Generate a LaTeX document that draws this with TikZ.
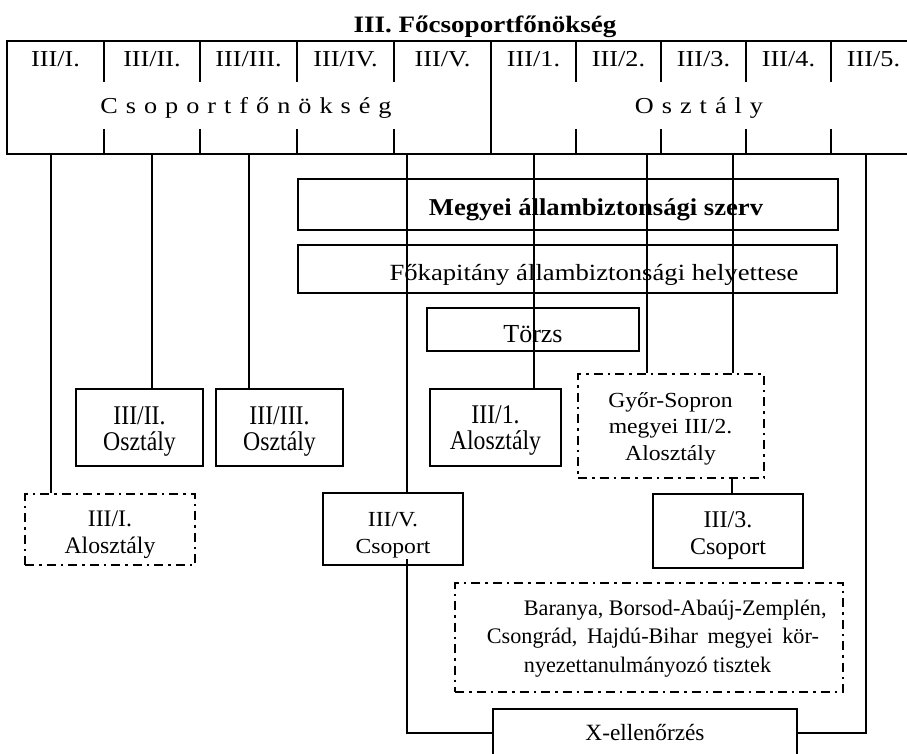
\documentclass[tikz,border=0pt]{standalone}
\usepackage{fontspec}
\setmainfont{Liberation Serif}
\newfontfamily\fTall{Liberation Serif}[FakeStretch=0.88]
\newfontfamily\fWide{Liberation Serif}[FakeStretch=1.1]
\newfontfamily\fWider{Liberation Serif}[FakeStretch=1.15]
\begin{document}
\begin{tikzpicture}[x=1pt,y=-1pt,line width=1.8pt,
  every node/.style={font=\fontsize{23.5}{26.5}\selectfont,inner sep=0pt},
  hdrfont/.style={font=\fontsize{22.8}{27}\selectfont\fWider},
  titlefont/.style={font=\fontsize{23.5}{27}\selectfont\fWider\bfseries},
  megfont/.style={font=\fontsize{24.2}{27}\selectfont\fWide\bfseries},
  fokfont/.style={font=\fontsize{23.2}{27}\selectfont\fWider},
  tallfont/.style={font=\fontsize{27}{26.5}\selectfont\fTall},
  widefont/.style={font=\fontsize{21.5}{26.5}\selectfont\fWide},
  gyorfont/.style={font=\fontsize{21.5}{26.7}\selectfont\fWide},
  box/.style={draw,rectangle,inner sep=0pt,line width=1.8pt},
  dashdot/.style={dash pattern=on 9pt off 5pt on 2.5pt off 5pt},
  txt/.style={anchor=base},
  mtxt/.style={align=center}]
\useasboundingbox (0,0) rectangle (907,754);

% title
\node[txt,titlefont] (title) at (485,33) {III. Főcsoportfőnökség};

% header
\node[box,minimum width=909pt,minimum height=113pt] (hdr) at (461.5,97.5) {};
\foreach \x in {104,200,297,394,576,661,746,831}{
  \draw (\x,41) -- (\x,82);
  \draw (\x,129) -- (\x,154);
}
\draw (491,41) -- (491,154);
\node[txt,hdrfont] (c1) at (55.5,67) {III/I.};
\node[txt,hdrfont] (c2) at (152,67) {III/II.};
\node[txt,hdrfont] (c3) at (248.5,67) {III/III.};
\node[txt,hdrfont] (c4) at (345.5,67) {III/IV.};
\node[txt,hdrfont] (c5) at (442.5,67) {III/V.};
\node[txt,hdrfont] (c6) at (533.5,67) {III/1.};
\node[txt,hdrfont] (c7) at (618.5,67) {III/2.};
\node[txt,hdrfont] (c8) at (703.5,67) {III/3.};
\node[txt,hdrfont] (c9) at (788.5,67) {III/4.};
\node[txt,hdrfont] (c10) at (873.5,67) {III/5.};
\node[txt,hdrfont] (csf) at (246,114) {\spaceskip=8pt C s o p o r t f ő n ö k s é g};
\node[txt,hdrfont] (osz) at (699,114) {\spaceskip=8pt O s z t á l y};

% boxes
\node[box,minimum width=540pt,minimum height=51pt] (megyei) at (568,204.5) {};
\node[txt,megfont] (tmegyei) at (596,215) {Megyei állambiztonsági szerv};
\node[box,minimum width=539pt,minimum height=48pt] (fokap) at (567.5,269) {};
\node[txt,fokfont] (tfokap) at (594,280) {Főkapitány állambiztonsági helyettese};
\node[box,minimum width=212pt,minimum height=43pt] (torzs) at (533,329.5) {};
\node[txt,font=\fontsize{26}{27}\selectfont] (ttorzs) at (533,342) {Törzs};

\node[box,minimum width=127pt,minimum height=77pt] (osztII) at (139.5,427.5) {};
\node[mtxt,tallfont] (tosztII) at (139.5,431.5) {III/II.\\Osztály};
\node[box,minimum width=127pt,minimum height=77pt] (osztIII) at (279.5,427.5) {};
\node[mtxt,tallfont] (tosztIII) at (279.5,431.5) {III/III.\\Osztály};
\node[box,minimum width=131pt,minimum height=77pt] (alos1) at (495.5,427.5) {};
\node[mtxt,tallfont] (talos1) at (495.5,430.5) {III/1.\\Alosztály};
\node[box,dashdot,minimum width=186pt,minimum height=104pt] (gyor) at (671,426) {};
\node[mtxt,gyorfont] (tgyor) at (670.5,428.6) {Győr-Sopron\\megyei III/2.\\Alosztály};

\node[box,dashdot,minimum width=170pt,minimum height=71pt] (alosI) at (110,529.5) {};
\node[mtxt,font=\fontsize{23.7}{26.5}\selectfont] (talosI) at (110,534.6) {III/I.\\Alosztály};
\node[box,minimum width=140pt,minimum height=72pt] (csopV) at (393,529) {};
\node[mtxt,widefont] (tcsopV) at (393,535) {III/V.\\Csoport};
\node[box,minimum width=150pt,minimum height=74pt] (csop3) at (728,531) {};
\node[mtxt,font=\fontsize{24}{26.5}\selectfont] (tcsop3) at (728,535.5) {III/3.\\Csoport};

\node[box,dashdot,minimum width=388pt,minimum height=109pt] (baranya) at (649,637.5) {};
\node[align=left,anchor=west,font=\fontsize{22.2}{28.5}\selectfont] (tbaranya) at (486,638.5) {\hspace*{37pt}Baranya, Borsod-Abaúj-Zemplén,\\Csongrád,\hspace{9.5pt}Hajdú-Bihar\hspace{9.5pt}megyei\hspace{9.5pt}kör-\\\hspace*{37pt}nyezettanulmányozó tisztek};

\node[box,minimum width=304pt,minimum height=48pt] (xbox) at (645,733) {};
\node[txt,font=\fontsize{23.3}{27}\selectfont] (txbox) at (645,740) {X-ellenőrzés};

% connectors
\coordinate (p1) at (51,154);
\coordinate (p2) at (152,154);
\coordinate (p3) at (249,154);
\coordinate (p5) at (407,154);
\coordinate (p6) at (534,154);
\coordinate (p7) at (647,154);
\coordinate (p8) at (733,154);
\coordinate (p10) at (866,154);
\coordinate (q3) at (732,0);
\draw (p1) -- (p1 |- alosI.north);
\draw (p2) -- (p2 |- osztII.north);
\draw (p3) -- (p3 |- osztIII.north);
\draw (p5) -- (p5 |- csopV.north);
\draw (p6) -- (p6 |- alos1.north);
\draw (p7) -- (p7 |- gyor.north);
\draw (p8) -- (p8 |- gyor.north);
\draw (q3 |- gyor.south) -- (q3 |- csop3.north);
\draw ([yshift=7pt]p5 |- csopV.south) -- (p5 |- xbox.west) -- (xbox.west);
\draw (p10) -- (p10 |- xbox.east) -- (xbox.east);
\end{tikzpicture}
\end{document}
